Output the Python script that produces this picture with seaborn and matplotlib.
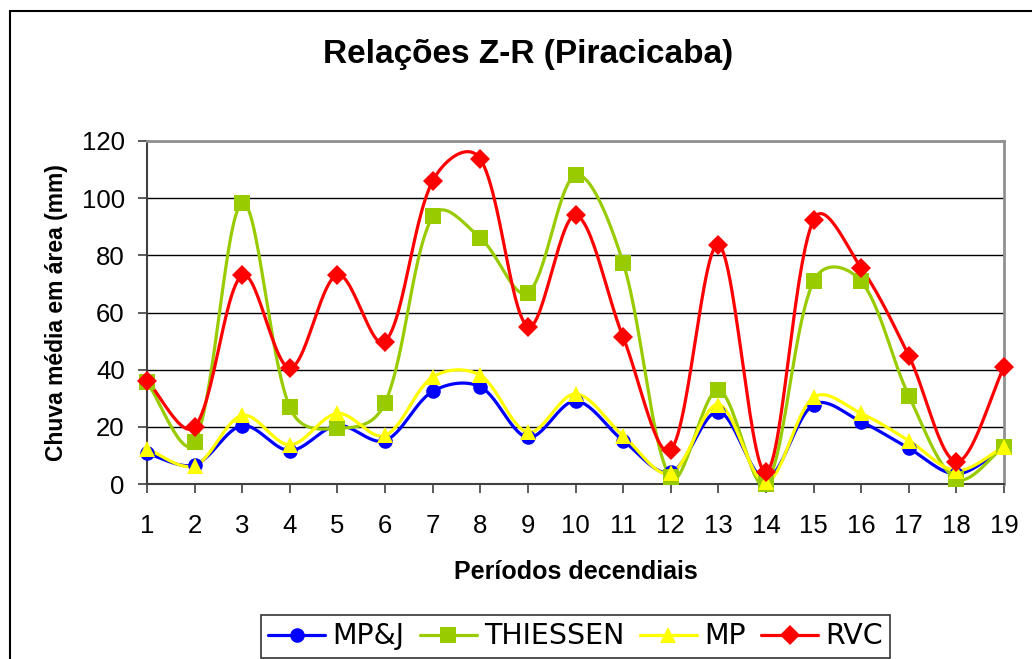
import numpy as np
import pandas as pd
import matplotlib
matplotlib.use("Agg")
import matplotlib.pyplot as plt
from matplotlib.lines import Line2D
from matplotlib.patches import Rectangle
import seaborn as sns

periodos = list(range(1, 20))
mpj = [10.7, 6.7, 20.4, 11.7, 20.5, 15.2, 32.4, 34.0, 16.3, 29.0,
       15.2, 4.1, 25.3, 1.8, 27.8, 21.8, 12.5, 3.5, 12.8]
thiessen = [35.6, 14.6, 98.3, 26.8, 19.5, 28.4, 93.6, 86.1, 66.9, 108.0,
            77.4, 2.3, 32.9, 0.0, 70.9, 70.9, 30.9, 1.8, 13.1]
mp = [12.3, 6.4, 24.0, 13.7, 24.7, 17.0, 37.4, 38.0, 18.1, 31.5,
      16.9, 3.7, 27.8, 0.6, 30.3, 24.7, 15.2, 4.7, 13.1]
rvc = [36.2, 20.0, 73.0, 40.6, 73.2, 49.8, 106.0, 113.7, 55.1, 94.0,
       51.4, 11.9, 83.7, 4.1, 92.4, 75.6, 44.9, 7.8, 40.9]

series = [
    ("MP&J", mpj, "#0000FF", "o", 10.5),
    ("THIESSEN", thiessen, "#99CC00", "s", 11),
    ("MP", mp, "#FFFF00", "^", 11.5),
    ("RVC", rvc, "#FF0000", "D", 10.5),
]

# pixel size of one unit on each axis, used to weight the smoothing
PX_X, PX_Y = 47.6, 2.855


def smooth(x, y, n=30):
    # bezier smoothing, close to the spreadsheet "smoothed line"
    p = np.column_stack([np.asarray(x, float), np.asarray(y, float)])
    p = np.vstack([p[:1], p, p[-1:]])
    scale = np.array([PX_X, PX_Y])
    d = np.linalg.norm(np.diff(p, axis=0) * scale, axis=1)
    t = np.linspace(0, 1, n)[:, None]
    out = []
    for i in range(1, len(p) - 2):
        p0, p3 = p[i], p[i + 1]
        dp, dn = d[i - 1], d[i]
        w1 = 0.5 + 0.5 * (2 * dn / (dp + dn) if dp + dn > 0 else 1)
        dp2, dn2 = d[i], d[i + 1]
        w2 = 0.5 + 0.5 * (2 * dp2 / (dp2 + dn2) if dp2 + dn2 > 0 else 1)
        c1 = p0 + (p3 - p[i - 1]) / 6 * w1
        c2 = p3 - (p[i + 2] - p0) / 6 * w2
        seg = (1 - t) ** 3 * p0 + 3 * (1 - t) ** 2 * t * c1 \
            + 3 * (1 - t) * t ** 2 * c2 + t ** 3 * p3
        out.append(seg)
    out = np.vstack(out)
    return out[:, 0], out[:, 1]


sns.set_style("white")
plt.rcParams['font.family'] = ['Liberation Sans', 'DejaVu Sans']
plt.rcParams.update({"text.color": "black", "axes.labelcolor": "black",
                     "xtick.color": "black", "ytick.color": "black"})

fig = plt.figure(figsize=(10.32, 6.59), dpi=100)
ax = fig.add_axes([147 / 1032, 1 - 484 / 659, (1004 - 147) / 1032, (484 - 141) / 659])

handles = []
for name, vals, color, mk, ms in series:
    xs, ys = smooth(periodos, vals)
    sns.lineplot(x=xs, y=ys, color=color, lw=2.3, ax=ax, sort=False, zorder=3)
    ax.plot(periodos, vals, ls="none", marker=mk, ms=ms, color=color,
            markeredgewidth=0, zorder=4, clip_on=False)
    handles.append(Line2D([], [], color=color, lw=2.3, marker=mk, ms=ms,
                          markeredgewidth=0, label=name))

ax.set_xlim(1, 19)
ax.set_ylim(0, 120)
ax.set_xticks(periodos)
ax.set_yticks(range(0, 121, 20))
ax.yaxis.grid(True, color="black", lw=1)
ax.set_axisbelow(True)
for side in ["left", "bottom"]:
    ax.spines[side].set_color("#404040")
    ax.spines[side].set_linewidth(1.5)
for side in ["top", "right"]:
    ax.spines[side].set_color("#909090")
    ax.spines[side].set_linewidth(2)
ax.tick_params(axis="both", direction="out", length=6.5, width=1.2, color="#404040",
               labelsize=18.5, left=True, bottom=True)
ax.tick_params(axis="y", pad=9.5)
ax.tick_params(axis="x", pad=15)

ax.set_xlabel("Períodos decendiais", fontsize=18, fontweight="bold", labelpad=16)
ax.set_ylabel("Chuva média em área (mm)", fontsize=16.5, fontweight="bold", labelpad=10)
fig.text(528 / 1032, 1 - 55 / 659, "Relações Z-R (Piracicaba)", fontsize=24,
         fontweight="bold", ha="center", va="center")

leg = fig.legend(handles=handles, loc="center", bbox_to_anchor=(575.5 / 1032, 1 - 636.5 / 659),
                 ncol=4, frameon=True, fancybox=False, handlelength=2.0,
                 handletextpad=0.25, columnspacing=0.55, borderpad=0.25,
                 prop={"family": "Liberation Sans Narrow", "size": 20.5})
leg.get_frame().set_edgecolor("black")
leg.get_frame().set_linewidth(1.2)

fig.patches.append(Rectangle((10 / 1032, -0.1), 1.2, 1 - 11 / 659 + 0.1,
                             transform=fig.transFigure, fill=False,
                             edgecolor="black", lw=1.5))

fig.savefig("out.png", dpi=100)
